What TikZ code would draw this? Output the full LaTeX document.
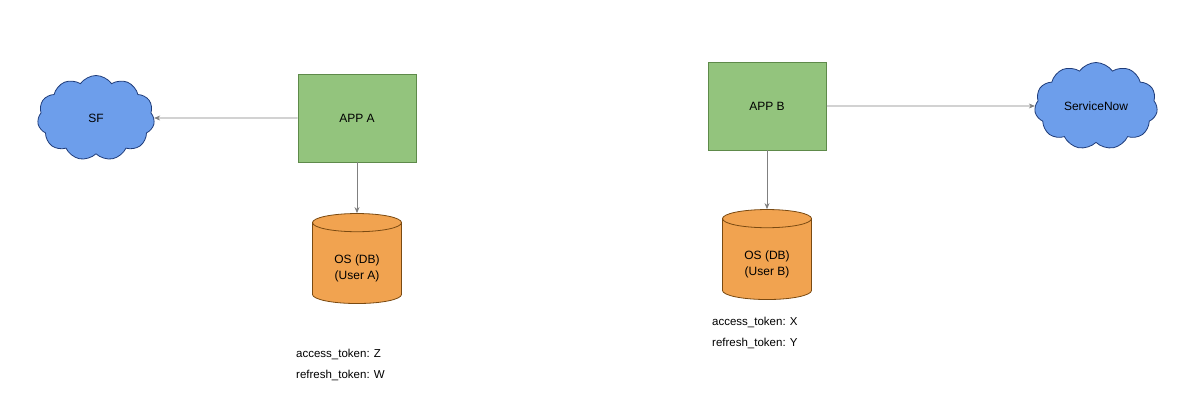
\documentclass[tikz,border=0pt]{standalone}
\usepackage{fontspec}
\setmainfont{Liberation Sans}
\usetikzlibrary{shapes.geometric,shapes.symbols,arrows.meta}
\definecolor{gfill}{HTML}{93C47D}
\definecolor{gline}{HTML}{5E8A4A}
\definecolor{ofill}{HTML}{F1A350}
\definecolor{oline}{HTML}{7A4A12}
\definecolor{bfill}{HTML}{6D9EEB}
\definecolor{bline}{HTML}{1F3C7A}
\begin{document}
\begin{tikzpicture}[x=1pt,y=-1pt,
  app/.style={draw=gline,fill=gfill,line width=0.8pt,minimum width=118pt,minimum height=88pt,font=\fontsize{12}{14}\selectfont},
  db/.style={cylinder,shape border rotate=90,aspect=0.35,draw=oline,fill=ofill,line width=0.8pt,minimum width=89pt,minimum height=90pt,align=center,font=\fontsize{12}{16}\selectfont},
  cl/.style={cloud,cloud puffs=11,cloud puff arc=110,aspect=1.4,draw=bline,fill=bfill,line width=0.8pt,font=\fontsize{12}{14}\selectfont,inner sep=0pt},
  arr/.style={draw=gray,line width=0.8pt,-{Stealth[length=6pt,width=5pt]}},
  lbl/.style={align=left,font=\fontsize{11.5}{21}\selectfont,anchor=north west,inner sep=0pt}]
\useasboundingbox (0,0) rectangle (1178,402);
\node[cl,minimum width=117pt,minimum height=85pt] (sf) at (96,118) {SF};
\node[app] (a) at (357,118) {APP A};
\node[db] (dba) at (357,265) {\\OS (DB)\\(User A)};
\node[lbl] (ta) at (296,349) {access\_token: Z\\refresh\_token: W};
\node[app] (b) at (767,106) {APP B};
\node[db] (dbb) at (767,261) {\\OS (DB)\\(User B)};
\node[lbl] (tb) at (712,317) {access\_token: X\\refresh\_token: Y};
\node[cl,minimum width=123pt,minimum height=87pt] (sn) at (1096,106) {ServiceNow};
\draw[arr] (a.west) -- (sf.east);
\draw[arr] (a.south) -- (dba.top);
\draw[arr] (b.east) -- (sn.west);
\draw[arr] (b.south) -- (dbb.top);
\end{tikzpicture}
\end{document}
